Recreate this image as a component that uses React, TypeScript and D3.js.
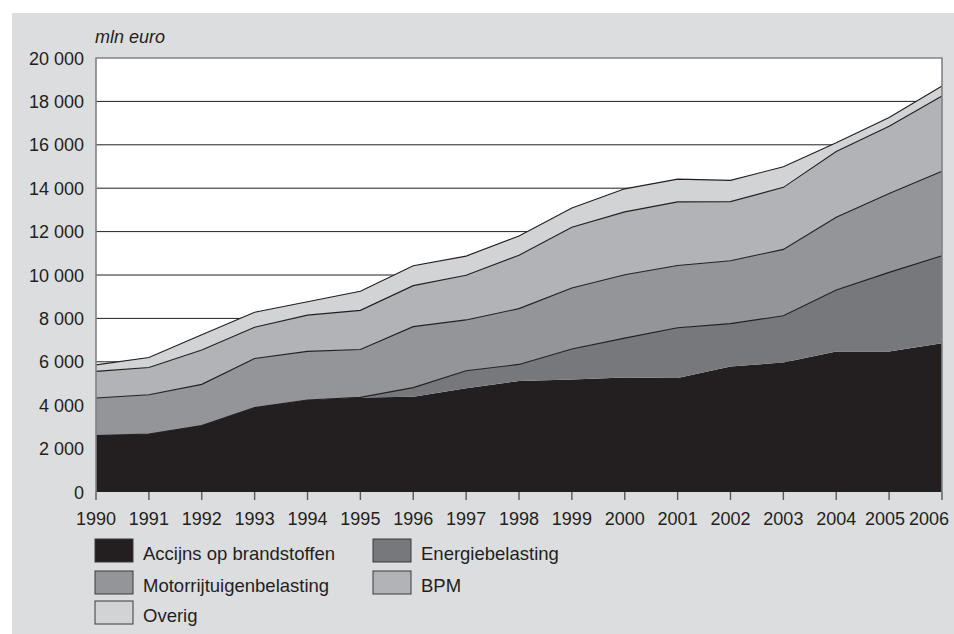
import { useEffect, useRef } from "react";
import * as d3 from "d3";

// years on the x axis
const years = d3.range(1990, 2007);

// series values in mln euro
const accijns = [2600, 2670, 3060, 3890, 4240, 4360, 4390, 4780, 5110, 5190, 5280, 5250, 5780, 5970, 6480, 6470, 6850];
const energie = [0, 0, 0, 0, 0, 0, 420, 810, 770, 1400, 1810, 2320, 1980, 2150, 2830, 3650, 4040];
const motor = [1730, 1810, 1900, 2260, 2240, 2210, 2810, 2340, 2570, 2810, 2920, 2870, 2900, 3060, 3350, 3640, 3890];
const bpm = [1230, 1260, 1580, 1440, 1670, 1800, 1890, 2060, 2460, 2800, 2900, 2930, 2720, 2860, 3030, 3100, 3470];
const overig = [300, 460, 710, 690, 620, 880, 920, 880, 890, 890, 1060, 1050, 980, 950, 400, 400, 460];

const seriesKeys = ["Accijns op brandstoffen", "Energiebelasting", "Motorrijtuigenbelasting", "BPM", "Overig"];
const seriesValues = [accijns, energie, motor, bpm, overig];
const seriesColors = ["#231f20", "#77787b", "#939598", "#b1b3b6", "#d1d3d4"];

const yTicks = [0, 2000, 4000, 6000, 8000, 10000, 12000, 14000, 16000, 18000, 20000];

const width = 954;
const height = 634;
const marginLeft = 96;
const marginRight = 12;
const marginTop = 58;
const plotBottom = 492;
const ink = "#231f20";
const font = "'Liberation Sans', Arial, Helvetica, sans-serif";

export default function App() {
  const ref = useRef<SVGSVGElement>(null);

  useEffect(() => {
    const svg = d3.select(ref.current);
    svg.selectAll("*").remove();

    const table = years.map((year, i) => {
      const row: any = { year };
      seriesKeys.forEach((k, j) => (row[k] = seriesValues[j][i]));
      return row;
    });

    const x = d3.scaleLinear().domain([1990, 2006]).range([marginLeft, width - marginRight]);
    const y = d3.scaleLinear().domain([0, 20000]).range([plotBottom, marginTop]);

    const stacked = d3.stack().keys(seriesKeys)(table);

    // grey panel
    svg.append("rect").attr("x", 12).attr("y", 13).attr("width", width - 12).attr("height", height - 13).attr("fill", "#dcdddf");

    // white plot area
    svg
      .append("rect")
      .attr("x", x(1990))
      .attr("y", y(20000))
      .attr("width", x(2006) - x(1990))
      .attr("height", y(0) - y(20000))
      .attr("fill", "#ffffff");

    // gridlines
    svg
      .append("g")
      .selectAll("line")
      .data(yTicks.filter((t) => t > 0 && t < 20000))
      .join("line")
      .attr("x1", x(1990))
      .attr("x2", x(2006))
      .attr("y1", (d) => y(d))
      .attr("y2", (d) => y(d))
      .attr("stroke", ink)
      .attr("stroke-width", 1);

    const area = d3
      .area<any>()
      .x((d) => x(d.data.year))
      .y0((d) => y(d[0]))
      .y1((d) => y(d[1]));

    const line = d3
      .line<any>()
      .x((d) => x(d.data.year))
      .y((d) => y(d[1]));

    svg
      .append("g")
      .selectAll("path")
      .data(stacked)
      .join("path")
      .attr("d", area as any)
      .attr("fill", (_, i) => seriesColors[i]);

    svg
      .append("g")
      .selectAll("path")
      .data(stacked.slice(1))
      .join("path")
      .attr("d", line as any)
      .attr("fill", "none")
      .attr("stroke", ink)
      .attr("stroke-width", 1.1);

    // frame: top, right, left axis
    svg
      .append("path")
      .attr("d", `M${x(1990)},${y(0)}V${y(20000)}H${x(2006)}V${y(0)}`)
      .attr("fill", "none")
      .attr("stroke", "#808285")
      .attr("stroke-width", 1.6);

    // x axis ticks
    svg
      .append("g")
      .selectAll("line")
      .data(years)
      .join("line")
      .attr("x1", (d) => x(d))
      .attr("x2", (d) => x(d))
      .attr("y1", y(0))
      .attr("y2", y(0) + 8)
      .attr("stroke", "#58595b")
      .attr("stroke-width", 1.4);

    // the last two labels are squeezed together so 2006 stays on the page
    const labelX = (d: number) => (d === 2006 ? 909 : d === 2005 ? 905 : x(d));
    const labelAnchor = (d: number) => (d === 2006 ? "start" : d === 2005 ? "end" : "middle");
    svg
      .append("g")
      .selectAll("text")
      .data(years)
      .join("text")
      .attr("x", labelX)
      .attr("y", 525)
      .attr("text-anchor", labelAnchor)
      .attr("font-family", font)
      .attr("font-size", 18)
      .attr("fill", ink)
      .text((d) => String(d));

    // y labels
    const fmt = (v: number) => d3.format(",")(v).replace(/,/g, " ");
    svg
      .append("g")
      .selectAll("text")
      .data(yTicks)
      .join("text")
      .attr("x", 84)
      .attr("y", (d) => y(d) + 6.5)
      .attr("text-anchor", "end")
      .attr("font-family", font)
      .attr("font-size", 18)
      .attr("fill", ink)
      .text((d) => fmt(d));

    svg
      .append("text")
      .attr("x", 95)
      .attr("y", 43)
      .attr("font-family", font)
      .attr("font-size", 18)
      .attr("font-style", "italic")
      .attr("fill", ink)
      .text("mln euro");

    // legend
    const legendPos = [
      { k: 0, x: 95, y: 539 },
      { k: 1, x: 373, y: 539 },
      { k: 2, x: 95, y: 571 },
      { k: 3, x: 373, y: 571 },
      { k: 4, x: 95, y: 601 },
    ];
    const lg = svg.append("g").selectAll("g").data(legendPos).join("g");
    lg.append("rect")
      .attr("x", (d) => d.x)
      .attr("y", (d) => d.y)
      .attr("width", 38)
      .attr("height", 23)
      .attr("fill", (d) => seriesColors[d.k])
      .attr("stroke", "#3a3a3c")
      .attr("stroke-width", 1);
    lg.append("text")
      .attr("x", (d) => d.x + 48)
      .attr("y", (d) => d.y + 20.5)
      .attr("font-family", font)
      .attr("font-size", 18.5)
      .attr("fill", ink)
      .text((d) => seriesKeys[d.k]);
  }, []);

  return (
    <>
      <style>{`body{margin:0}`}</style>
      <svg ref={ref} width={width} height={height} style={{ display: "block" }} />
    </>
  );
}
